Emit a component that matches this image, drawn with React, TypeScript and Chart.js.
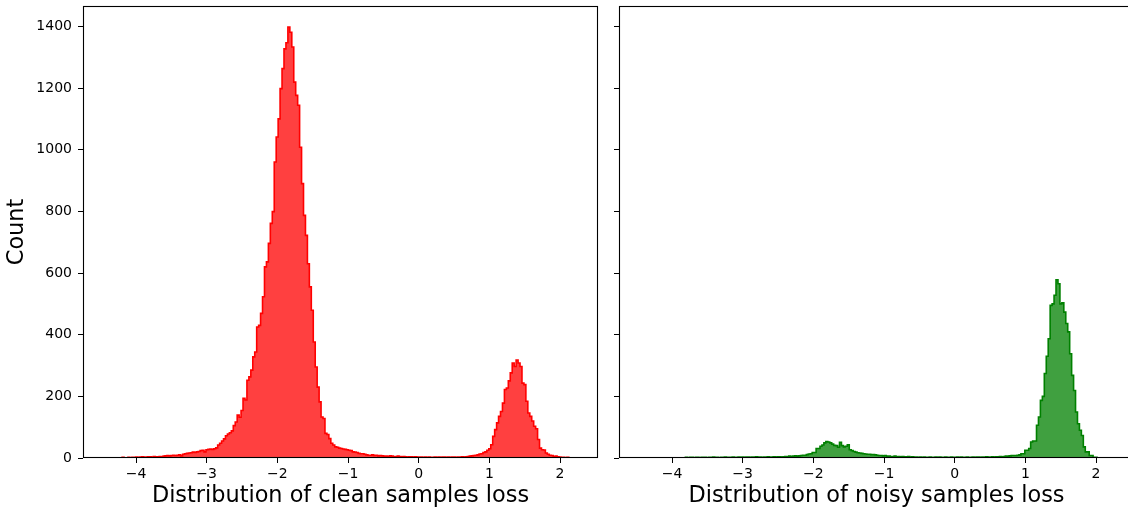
import React, { useEffect, useRef } from 'react';
import { Chart, registerables } from 'chart.js';

Chart.register(...registerables);

// Histogram bins (left edge of first bin, bin width)
const binStart = -4.39;
const binWidth = 0.0276;

// Counts per bin, clean samples (red)
const cleanCounts = [
  0, 1, 0, 1, 1, 0, 1, 1, 2, 1, 1, 2, 1, 2, 2,
  3, 2, 3, 4, 3, 3, 4, 4, 3, 5, 4, 4, 5, 4,
  6, 7, 8, 7, 8, 9, 8, 9, 10, 7, 12, 14,
  15, 16, 17, 19, 18, 20, 21, 24, 25, 20,
  27, 28, 29, 28, 30, 33, 42, 48, 55, 62,
  72, 78, 82, 88, 105, 117, 139, 132, 154, 194,
  188, 252, 263, 285, 328, 344, 425, 430, 469, 523,
  620, 636, 696, 761, 799, 960, 1041, 1100, 1198, 1263,
  1327, 1347, 1398, 1381, 1333, 1219, 1176, 1144, 1008, 890,
  787, 722, 630, 555, 479, 376, 295, 230, 182, 133,
  128, 80, 76, 63, 48, 42, 36, 35, 32, 31,
  29, 28, 27, 25, 24, 20, 19, 18, 15, 14,
  14, 12, 10, 9, 9, 10, 8, 9, 7, 8,
  7, 6, 6, 5, 7, 6, 5, 4, 6, 5, 4, 5, 4, 3, 4, 4, 3, 4, 3, 3,
  3, 2, 3, 2, 3, 2, 2, 3, 2, 3, 2, 3, 3, 2, 3, 2, 3, 3, 2, 3, 3, 4, 3, 4, 5,
  6, 7, 8, 9, 10, 13, 14, 18, 20, 25,
  30, 43, 70, 92, 114, 135, 151, 178, 222, 227,
  250, 276, 308, 297, 318, 308, 297, 243, 238, 184,
  146, 135, 120, 103, 95, 60, 32, 27, 26, 16,
  12, 9, 8, 5, 6, 4, 3, 2, 2, 1, 2, 1, 0, 1,
];

// Counts per bin, noisy samples (green)
const noisyCounts = [
  0, 0, 0,
  1, 0, 1, 1, 0, 1, 1, 0, 1, 1, 1, 0, 1, 1, 1, 1, 0, 1,
  1, 2, 1, 2, 2, 1, 2, 2, 1, 2, 2, 2, 1, 2, 2, 3, 2, 2, 1, 2, 2, 3, 2, 2, 2, 3, 2, 2, 3, 2,
  3, 2, 3, 3, 2, 3, 3, 4, 3, 3, 2, 3, 3, 4, 3, 3, 4, 3, 4, 4, 3, 4,
  5, 5, 6, 5, 6, 7, 6, 7, 8, 9, 9, 11,
  13, 14, 18, 18, 31, 31, 38, 42,
  49, 53, 52, 49, 45, 41, 40, 35, 51,
  40, 36, 38, 43, 27, 24, 21, 19, 17, 16, 15,
  14, 13, 12, 12, 11, 11, 10, 9, 8, 8,
  7, 8, 6, 6, 5, 5, 6, 4, 5, 4, 5, 4, 4, 5, 3, 4, 3,
  3, 2, 3, 2, 3, 2, 2, 3, 2, 2, 3, 2, 3, 2, 2, 3, 2, 2, 3, 2,
  2, 3, 2, 3, 2, 2, 3, 2, 2, 3, 2, 3, 3, 2, 3, 3, 4, 3, 3, 4, 3, 4, 4, 5, 4, 5, 6,
  6, 7, 8, 8, 8, 9, 10, 14, 14, 25, 25,
  31, 52, 55, 55, 106, 133, 187, 200, 274, 330, 387, 495, 500, 528,
  578, 565, 500, 503, 473, 436, 409, 338, 268, 219, 149, 111, 90, 73,
  36, 20, 20, 8, 8, 2, 2, 1, 1, 0, 1, 0, 0, 0,
];

const xTicks = [-4, -3, -2, -1, 0, 1, 2];
const yTicks = [0, 200, 400, 600, 800, 1000, 1200, 1400];
const xMin = -4.75;
const xMax = 2.537;
const yMax = 1466;

const cleanTitle = 'Distribution of clean samples loss';
const noisyTitle = 'Distribution of noisy samples loss';
const yTitle = 'Count';

const FONT = "'DejaVu Sans', 'Liberation Sans', sans-serif";

function stepPoints(counts: number[]) {
  const pts = counts.map((c, i) => ({ x: binStart + i * binWidth, y: c }));
  pts.push({ x: binStart + counts.length * binWidth, y: 0 });
  return pts;
}

const framePlugin = {
  id: 'frame',
  afterDraw(chart: any) {
    const { ctx, chartArea: a } = chart;
    ctx.save();
    ctx.strokeStyle = '#000';
    ctx.lineWidth = 1.1;
    ctx.strokeRect(a.left + 0.5, a.top + 0.5, a.right - a.left - 1, a.bottom - a.top - 1);
    ctx.restore();
  },
};

function fmtX(v: number) {
  return v < 0 ? '\u2212' + Math.abs(v) : String(v);
}

function makeConfig(
  counts: number[],
  line: string,
  fillColor: string,
  xTitle: string,
  showY: boolean,
  yWidth: number
): any {
  return {
    type: 'line',
    data: {
      datasets: [
        {
          data: stepPoints(counts),
          borderColor: line,
          backgroundColor: fillColor,
          borderWidth: 1.6,
          fill: 'origin',
          stepped: 'after',
          pointRadius: 0,
          tension: 0,
        },
      ],
    },
    options: {
      responsive: false,
      animation: false,
      devicePixelRatio: 1,
      layout: { padding: { top: 6, right: 2, left: 0, bottom: 0 } },
      plugins: { legend: { display: false }, tooltip: { enabled: false } },
      scales: {
        x: {
          type: 'linear',
          min: xMin,
          max: xMax,
          afterBuildTicks: (s: any) => {
            s.ticks = xTicks.map((v) => ({ value: v }));
          },
          afterFit: (s: any) => {
            s.height = 55;
            s.paddingLeft = 0;
            s.paddingRight = 0;
          },
          grid: { drawOnChartArea: false, drawTicks: true, tickLength: 5, color: '#000', lineWidth: 1 },
          border: { display: false },
          ticks: {
            autoSkip: false,
            maxRotation: 0,
            padding: 3,
            color: '#000',
            font: { family: FONT, size: 14 },
            callback: (v: number) => fmtX(v),
          },
          title: {
            display: true,
            text: xTitle,
            color: '#000',
            font: { family: FONT, size: 22.4 },
            padding: { top: 0, bottom: 3 },
          },
        },
        y: {
          type: 'linear',
          min: 0,
          max: yMax,
          afterBuildTicks: (s: any) => {
            s.ticks = yTicks.map((v) => ({ value: v }));
          },
          afterFit: (s: any) => {
            s.width = yWidth;
            s.paddingTop = 0;
            s.paddingBottom = 0;
          },
          grid: { drawOnChartArea: false, drawTicks: true, tickLength: 5, color: '#000', lineWidth: 1 },
          border: { display: false },
          ticks: {
            autoSkip: false,
            padding: 6,
            color: '#000',
            font: { family: FONT, size: 14 },
            callback: (v: number) => (showY ? String(v) : ''),
          },
          title: {
            display: showY,
            text: yTitle,
            color: '#000',
            font: { family: FONT, size: 22.4 },
            padding: { top: 3.5, bottom: 0 },
          },
        },
      },
    },
    plugins: [framePlugin],
  };
}

export default function App() {
  const leftRef = useRef<HTMLCanvasElement>(null);
  const rightRef = useRef<HTMLCanvasElement>(null);

  useEffect(() => {
    const left = new Chart(
      leftRef.current as HTMLCanvasElement,
      makeConfig(cleanCounts, '#ff0000', 'rgba(255,0,0,0.75)', cleanTitle, true, 83)
    );
    const right = new Chart(
      rightRef.current as HTMLCanvasElement,
      makeConfig(noisyCounts, '#008000', 'rgba(0,128,0,0.75)', noisyTitle, false, 19)
    );
    return () => {
      left.destroy();
      right.destroy();
    };
  }, []);

  return (
    <div
      style={{
        position: 'absolute',
        left: 0,
        top: 0,
        width: 1128,
        height: 513,
        overflow: 'hidden',
        background: '#fff',
      }}
    >
      <canvas
        ref={leftRef}
        width={600}
        height={513}
        style={{ position: 'absolute', left: 0, top: 0, width: 600, height: 513 }}
      />
      <canvas
        ref={rightRef}
        width={536}
        height={513}
        style={{ position: 'absolute', left: 600, top: 0, width: 536, height: 513 }}
      />
    </div>
  );
}
